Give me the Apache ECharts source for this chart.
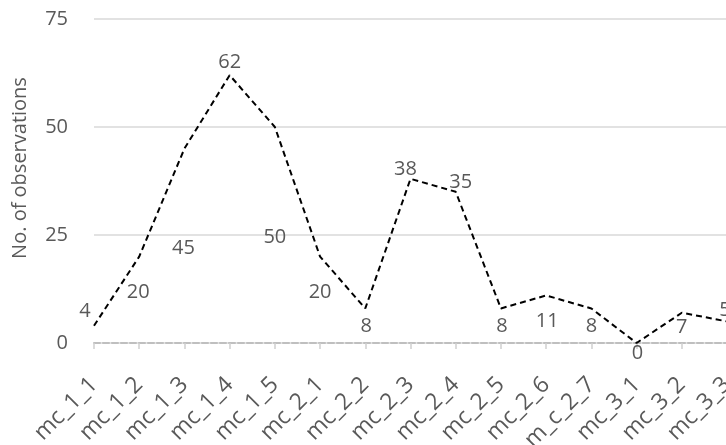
<!DOCTYPE html>
<html>
<head>
<meta charset="utf-8">
<script src="https://cdn.jsdelivr.net/npm/echarts@6/dist/echarts.min.js"></script>
<style>
html,body{margin:0;padding:0;background:#fff;}
#c{width:726px;height:445px;}
</style>
</head>
<body>
<div id="c"></div>
<script>
const categories = ['mc_1_1','mc_1_2','mc_1_3','mc_1_4','mc_1_5','mc_2_1','mc_2_2','mc_2_3','mc_2_4','mc_2_5','mc_2_6','m_c_2_7','mc_3_1','mc_3_2','mc_3_3'];
const values = [4,20,45,62,50,20,8,38,35,8,11,8,0,7,5];
const yTicks = [0,25,50,75];

// label placement (pixel offsets from each point), styling only
const labelOffsets = [[-9,-14],[-1,36],[-1,100],[0,-13],[0,110],[0,36],[1,18],[-5,-10],[5,-10],[1,18],[1,26],[0,18],[1,10],[0,15],[-2,-11]];

const chart = echarts.init(document.getElementById('c'));
const FONT = 'Open Sans';
const TXT = '#595959';
chart.setOption({
  animation: false,
  grid: {left: 94, right: -1, top: 19, bottom: 102, containLabel: false, outerBoundsMode: 'none'},
  xAxis: {
    type: 'category',
    data: categories,
    boundaryGap: false,
    axisLine: {show: true, lineStyle: {color: '#bfbfbf', width: 2, type: [6,3]}},
    axisTick: {show: true, length: 6, lineStyle: {color: '#d0d0d0', width: 1.5}},
    axisLabel: {rotate: 45, margin: 38, color: TXT, fontFamily: FONT, fontSize: 23, interval: 0}
  },
  yAxis: {
    type: 'value',
    min: yTicks[0], max: yTicks[yTicks.length-1], interval: 25,
    name: 'No. of observations',
    nameLocation: 'middle',
    nameGap: 64,
    nameTextStyle: {color: TXT, fontFamily: FONT, fontSize: 20, padding: [0, 0, 0, 26]},
    axisLine: {show: false},
    axisTick: {show: false},
    axisLabel: {color: TXT, fontFamily: FONT, fontSize: 20, margin: 26},
    splitLine: {lineStyle: {color: '#d9d9d9', width: 1.5}}
  },
  series: [{
    type: 'line',
    data: values.map((v, i) => ({
      value: v,
      label: {position: labelOffsets[i]}
    })),
    symbol: 'circle',
    symbolSize: 0,
    showSymbol: true,
    itemStyle: {color: 'rgba(0,0,0,0)'},
    lineStyle: {color: '#000', width: 2, type: [6,4]},
    label: {
      show: true,
      align: 'center',
      verticalAlign: 'middle',
      color: TXT,
      fontFamily: FONT,
      fontSize: 20
    },
    labelLayout: {hideOverlap: false}
  }]
});
</script>
</body>
</html>
